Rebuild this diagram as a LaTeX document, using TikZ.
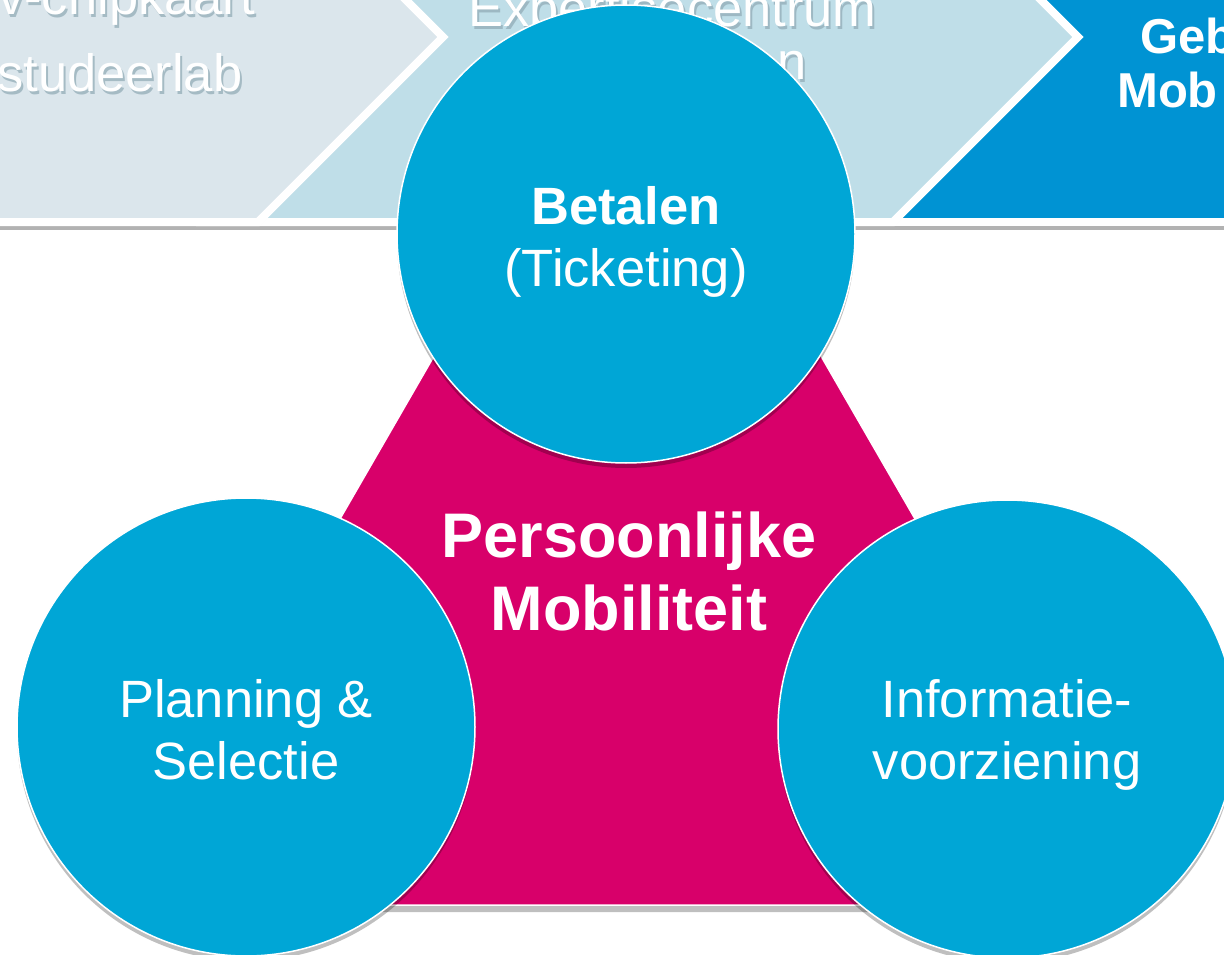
\documentclass[tikz,border=0pt]{standalone}
\usepackage{fontspec}
\setmainfont{Liberation Sans}
\usetikzlibrary{shadows}
\definecolor{pijlgrijs}{HTML}{DBE6EC}
\definecolor{pijllicht}{HTML}{BFDEE8}
\definecolor{pijlblauw}{HTML}{0093D3}
\definecolor{cirkelblauw}{HTML}{00A6D6}
\definecolor{roze}{HTML}{D8006A}
\definecolor{tekstschaduw}{HTML}{8FA9B4}

\begin{document}
\begin{tikzpicture}[x=1pt,y=-1pt,
  pijl/.style={draw=white, line width=8pt, line join=miter},
  band/.style={anchor=base west, inner sep=0, text=white, font=\fontsize{52.5}{62}\selectfont},
  bandschaduw/.style={band, text=tekstschaduw, opacity=.7},
  bandvet/.style={band, font=\fontsize{49}{56}\selectfont\bfseries},
  cirkel/.style={circle, fill=cirkelblauw, draw=white, line width=1.5pt, minimum size=458pt,
    inner sep=0, drop shadow={shadow xshift=0pt, shadow yshift=-5pt, opacity=.25, fill=black}},
  cirkeltekst/.style={inner sep=0, text=white, align=center, font=\fontsize{52.5}{62}\selectfont}]
\useasboundingbox (0,0) rectangle (1224,955);
\clip (0,0) rectangle (1224,955);
\fill[white] (0,0) rectangle (1224,955);
\newcommand\bandtekst[3]{
\node[bandschaduw, xshift=2pt, yshift=-3pt] (#1-s) at #2 {#3};
\node[band] (#1) at #2 {#3};
}
\fill[black!30] (-10,222) rectangle (1240,230);
\path[pijl, fill=pijlblauw] (800,-150) -- (1260,-150) -- (1260,222) -- (800,222) -- cycle;
\path[pijl, fill=pijllicht, drop shadow={shadow xshift=3pt, shadow yshift=-2pt, opacity=.25, fill=black}]
  (200,-148) -- (893,-148) -- (1078,37) -- (893,222) -- (200,222) -- cycle;
\path[pijl, fill=pijlgrijs, drop shadow={shadow xshift=3pt, shadow yshift=-2pt, opacity=.25, fill=black}]
  (-20,-148) -- (258,-148) -- (443,37) -- (258,222) -- (-20,222) -- cycle;
\bandtekst{chip}{(-2,15)}{v-chipkaart}
\bandtekst{lab}{(-3,92)}{studeerlab}
\bandtekst{expert}{(468,27)}{Expertisecentrum}
\bandtekst{expert2}{(777,80)}{n}
\node[bandvet] (geb) at (1140,54) {Geb};
\node[bandvet] (mob) at (1117,108) {Mob};
\coordinate (top) at (627.5,21);
\coordinate (links) at (117,905);
\coordinate (rechts) at (1138,905);
\path[fill=roze, draw=white, line width=1.5pt,
  drop shadow={shadow xshift=0pt, shadow yshift=-7pt, opacity=.25, fill=black}]
  (top) -- (rechts) -- (links) -- cycle;
\node[text=white, align=center, inner sep=0, font=\fontsize{63}{73}\selectfont\bfseries]
  (persoonlijk) at (629,571) {Persoonlijke\\Mobiliteit};
\node[cirkel] (betalen) at (626,234) {};
\node[cirkel] (planning) at (246,727) {};
\node[cirkel] (info) at (1007,729) {};
\node[cirkeltekst, yshift=-8pt] (betalen-t) at (betalen.center) {\textbf{Betalen}\\(Ticketing)};
\node[cirkeltekst, yshift=-3pt] (planning-t) at (planning.center) {Planning \&\\Selectie};
\node[cirkeltekst, yshift=-6pt] (info-t) at (info.center) {Informatie-\\voorziening};
\end{tikzpicture}
\end{document}
